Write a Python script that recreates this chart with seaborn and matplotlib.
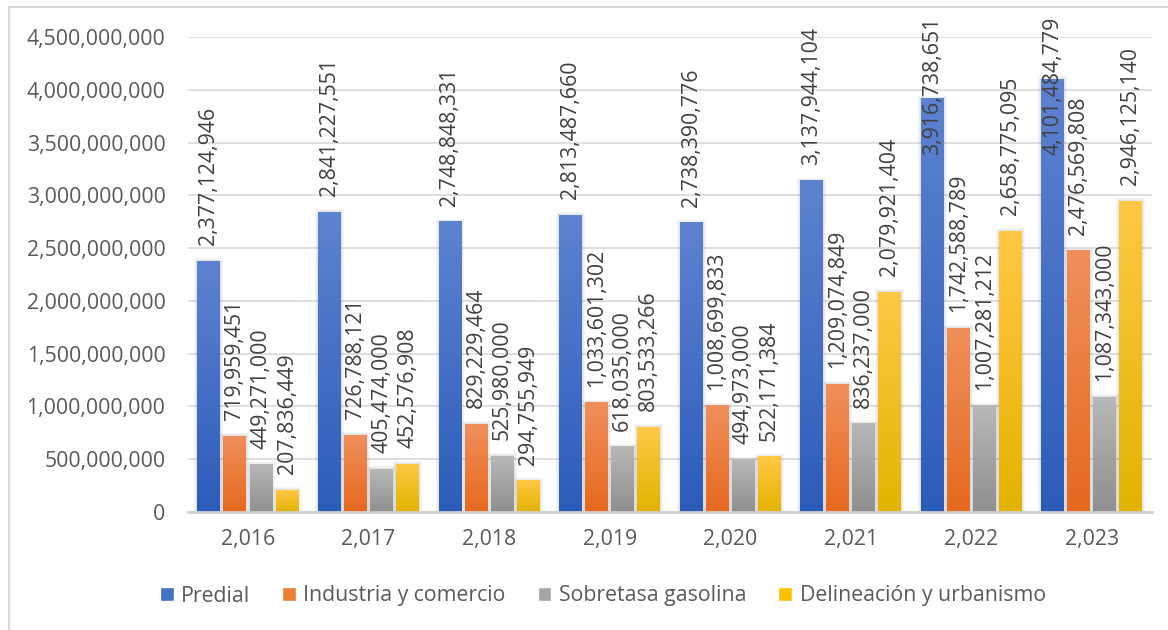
import numpy as np
import pandas as pd
import matplotlib
matplotlib.use('Agg')
import matplotlib.pyplot as plt
import seaborn as sns
from matplotlib.colors import LinearSegmentedColormap
from matplotlib.patches import Rectangle

years = ['2,016', '2,017', '2,018', '2,019', '2,020', '2,021', '2,022', '2,023']
series = ['Predial', 'Industria y comercio', 'Sobretasa gasolina', 'Delineación y urbanismo']
predial = [2377124946, 2841227551, 2748848331, 2813487660, 2738390776, 3137944104, 3916738651, 4101484779]
industria = [719959451, 726788121, 829229464, 1033601302, 1008699833, 1209074849, 1742588789, 2476569808]
sobretasa = [449271000, 405474000, 525980000, 618035000, 494973000, 836237000, 1007281212, 1087343000]
delineacion = [207836449, 452576908, 294755949, 803533266, 522171384, 2079921404, 2658775095, 2946125140]

# gradient colours (top, bottom) per series
grad = {
    'Predial': ('#5d82d0', '#2c5cba'),
    'Industria y comercio': ('#f08f5c', '#e6691e'),
    'Sobretasa gasolina': ('#b8b8b8', '#8f8f8f'),
    'Delineación y urbanismo': ('#ffc845', '#e3b300'),
}
mid = {'Predial': '#4472c4', 'Industria y comercio': '#ed7d31',
       'Sobretasa gasolina': '#a5a5a5', 'Delineación y urbanismo': '#ffc000'}

df = pd.DataFrame({
    'year': years * 4,
    'serie': [s for s in series for _ in years],
    'value': predial + industria + sobretasa + delineacion,
})

sns.set_style('white')
plt.rcParams['font.family'] = ['Open Sans', 'DejaVu Sans']

fig = plt.figure(figsize=(11.68, 6.3), dpi=100)
ax = fig.add_axes([0.1607, 0.1873, 0.8256, 0.754])

sns.barplot(data=df, x='year', y='value', hue='serie', hue_order=series,
            palette=mid, width=0.864, gap=0.12, legend=False, ax=ax, errorbar=None)

ymax = 4.5e9
px_x = len(years) / (0.8256 * 1168)   # one pixel in category units
px_y = ymax / (0.754 * 630)           # one pixel in data units
for cont, s in zip(ax.containers, series):
    cmap = LinearSegmentedColormap.from_list(s, [grad[s][1], grad[s][0]])
    for bar in cont:
        x0, w, h = bar.get_x(), bar.get_width(), bar.get_height()
        bar.set_facecolor('none')
        bar.set_edgecolor('none')
        # soft shadow
        for k in range(1, 4):
            ax.add_patch(Rectangle((x0 - k * px_x, 0), w + 2 * k * px_x, h + k * px_y,
                                   facecolor='black', edgecolor='none', alpha=0.035, zorder=1))
        g = np.linspace(0, 1, 100).reshape(-1, 1)
        ax.imshow(g, extent=[x0, x0 + w, 0, h], origin='lower', aspect='auto',
                  cmap=cmap, zorder=2)
        # data label, pushed down when it would run off the top
        ly = min(h + 16 * px_y, 3.38e9)
        ax.text(x0 + w / 2, ly, f'{int(h):,}', rotation=90, ha='center', va='bottom',
                fontsize=15.3, color='#404040', zorder=4, clip_on=False)

ax.set_xlim(-0.5, len(years) - 0.5)
ax.set_ylim(0, ymax)
ax.set_yticks(np.arange(0, ymax + 1, 5e8))
ax.yaxis.set_major_formatter(matplotlib.ticker.FuncFormatter(lambda v, p: f'{int(v):,}'))
ax.grid(axis='y', color='#d9d9d9', linewidth=1.2, zorder=0)
ax.set_axisbelow(True)
for sp in ['left', 'right', 'top']:
    ax.spines[sp].set_visible(False)
ax.spines['bottom'].set_color('#d0d0d0')
ax.spines['bottom'].set_linewidth(2)
ax.tick_params(axis='both', length=0, labelsize=15.3, labelcolor='#595959')
ax.tick_params(axis='y', pad=16)
ax.tick_params(axis='x', pad=12)
ax.set_xlabel('')
ax.set_ylabel('')

handles = [Rectangle((0, 0), 1, 1, facecolor=mid[s]) for s in series]
fig.legend(handles, series, loc='center', bbox_to_anchor=(0.516, 1 - 596 / 630), ncol=4,
           frameon=False, fontsize=15.3, labelcolor='#595959', handlelength=0.65,
           handleheight=0.65, handletextpad=0.35, columnspacing=1.5)

# chart border (left and top visible)
fig.add_artist(Rectangle((9 / 1168, -0.1), 1.2, 1 - 7 / 630 + 0.1, transform=fig.transFigure,
                         facecolor='none', edgecolor='#d9d9d9', linewidth=1.5))

fig.savefig('out.png', dpi=100)
